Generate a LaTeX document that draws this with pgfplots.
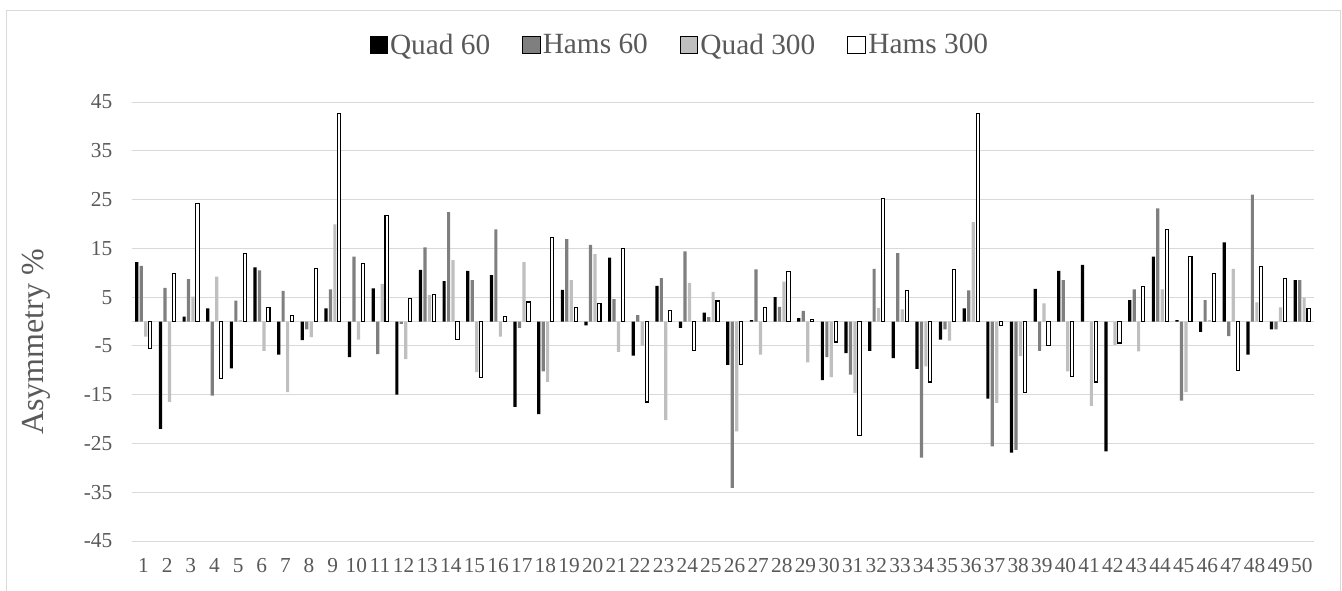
\documentclass[border=0pt]{standalone}
\usepackage{pgfplots}
\usepackage{pgfplotstable}
\pgfplotsset{compat=1.18}
\usepackage{fontspec}
\setmainfont{Liberation Serif}
\definecolor{q60}{HTML}{000000}
\definecolor{h60}{HTML}{7F7F7F}
\definecolor{q300}{HTML}{BFBFBF}
\definecolor{txt}{HTML}{595959}
\definecolor{grd}{HTML}{D9D9D9}
\pgfplotsset{sqlegend/.style={legend image code/.code={\draw[##1] (0pt,-6.5pt) rectangle (13pt,6.5pt);}}}

\pgfplotstableread{
cat q60 h60 q300 h300
1 12.2 11.4 -3.1 -5.6
2 -22.0 6.9 -16.5 9.8
3 1.0 8.7 5.1 24.2
4 2.7 -15.2 9.2 -11.6
5 -9.6 4.3 0.3 14.0
6 11.1 10.5 -6.0 2.8
7 -6.8 6.3 -14.5 1.3
8 -3.8 -1.6 -3.2 10.9
9 2.7 6.6 19.9 42.7
10 -7.3 13.3 -3.7 11.8
11 6.8 -6.7 7.7 21.8
12 -15.0 -0.5 -7.7 4.7
13 10.6 15.2 5.4 5.6
14 8.3 22.4 12.6 -3.6
15 10.4 8.5 -10.4 -11.5
16 9.5 18.9 -3.1 1.1
17 -17.5 -1.3 12.2 4.0
18 -19.0 -10.2 -12.4 17.3
19 6.5 16.9 8.5 2.9
20 -0.8 15.7 13.8 3.7
21 13.1 4.6 -6.2 15.0
22 -7.0 1.3 -5.0 -16.5
23 7.3 8.9 -20.2 2.3
24 -1.3 14.4 7.9 -5.9
25 1.8 0.9 6.1 4.2
26 -8.9 -34.1 -22.5 -8.9
27 0.3 10.7 -6.8 2.8
28 5.0 3.0 8.2 10.3
29 0.7 2.2 -8.4 0.4
30 -12.0 -7.3 -11.4 -4.2
31 -6.5 -10.9 -14.7 -23.4
32 -6.0 10.8 2.8 25.3
33 -7.5 14.0 2.5 6.3
34 -9.7 -27.9 -9.2 -12.4
35 -3.7 -1.6 -3.9 10.6
36 2.7 6.4 20.4 42.7
37 -15.8 -25.6 -16.7 -0.9
38 -26.9 -26.3 -7.1 -14.6
39 6.7 -6.0 3.7 -5.0
40 10.4 8.5 -10.2 -11.3
41 11.6 0.0 -17.3 -12.4
42 -26.6 0.0 -4.8 -4.4
43 4.4 6.6 -6.1 7.1
44 13.3 23.2 6.6 18.9
45 0.3 -16.2 -14.5 13.4
46 -2.1 4.4 0.3 9.9
47 16.2 -3.0 10.8 -10.0
48 -6.8 26.0 3.9 11.3
49 -1.6 -1.6 2.9 8.8
50 8.5 8.5 4.9 2.6
}\datatable

\begin{document}
\begin{tikzpicture}
\useasboundingbox (0,0) rectangle (1006.5pt,-442.5pt);
\draw[grd, line width=0.75pt] (5pt,-450pt) -- (5pt,-8pt) -- (1005.4pt,-8pt) -- (1005.4pt,-450pt);
\begin{axis}[
  at={(98.78pt,-405.75pt)}, anchor=south west,
  scale only axis, width=886.5pt, height=329.25pt,
  ybar=0.95pt, bar width=2.4pt,
  every axis plot post/.append style={sqlegend},
  xmin=0.5, xmax=50.5, ymin=-45, ymax=45,
  xtick={1,...,50}, ytick={-45,-35,...,45},
  xticklabel={\pgfmathparse{int(round(\tick))}\pgfmathresult},
  yticklabel={\pgfmathparse{int(round(\tick))}\pgfmathresult},
  extra y ticks={0}, extra y tick labels={},
  ymajorgrids, grid style={grd, line width=0.75pt},
  extra y tick style={grid style={grd, line width=0.75pt}},
  axis line style={draw=none},
  major tick length=0pt,
  tick label style={font=\fontsize{16}{19}\selectfont, text=txt},
  yticklabel style={xshift=-11pt},
  xticklabel style={yshift=-9.5pt},
  ylabel={Asymmetry \%},
  ylabel style={at={(axis description cs:-0.0804,0.454)}, anchor=center, font=\fontsize{24}{28}\selectfont, text=txt},
  legend columns=4,
  legend style={draw=none, fill=none, at={(axis description cs:0.464,1.13)}, anchor=center,
    font=\fontsize{22}{26}\selectfont, text=txt,
    /tikz/every even column/.append style={column sep=22pt}},
]
\addplot[fill=q60, draw=none] table[x=cat, y=q60] {\datatable};
\addplot[fill=h60, draw=none] table[x=cat, y=h60] {\datatable};
\addplot[fill=q300, draw=none] table[x=cat, y=q300] {\datatable};
\addplot[fill=white, draw=black, line width=0.8pt] table[x=cat, y=h300] {\datatable};
\legend{Quad 60, Hams 60, Quad 300, Hams 300}
\end{axis}
\end{tikzpicture}
\end{document}
